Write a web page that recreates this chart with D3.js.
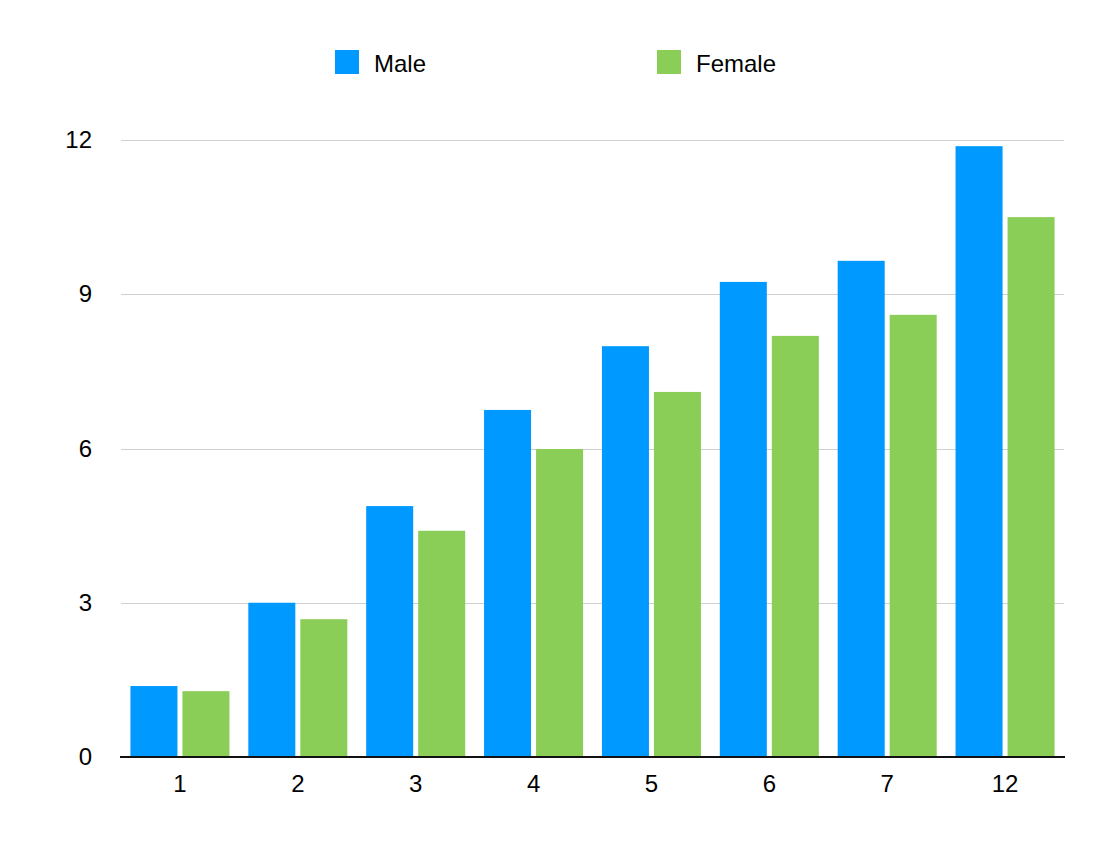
<!DOCTYPE html>
<html>
<head>
<meta charset="utf-8">
<script src="https://cdn.jsdelivr.net/npm/d3@7"></script>
<style>
  body { margin: 0; background: #fff; }
  svg { display: block; font-family: "Liberation Sans", Arial, Helvetica, sans-serif; }
</style>
</head>
<body>
<svg id="chart" width="1116" height="844"></svg>
<script>
const categories = ["1", "2", "3", "4", "5", "6", "7", "12"];
const seriesNames = ["Male", "Female"];
const male = [1.38, 3.0, 4.88, 6.75, 7.99, 9.24, 9.65, 11.88];
const female = [1.28, 2.68, 4.4, 5.99, 7.1, 8.19, 8.6, 10.5];
const yTicks = [0, 3, 6, 9, 12];

const colors = { Male: "#0099ff", Female: "#8acd57" };

const width = 1116, height = 844,
  margin = { left: 121, right: 52, top: 140, bottom: 87 };

const data = categories.map((c, i) => ({ cat: c, Male: male[i], Female: female[i] }));

const svg = d3.select("#chart");

const x = d3.scaleBand()
  .domain(categories)
  .range([margin.left, width - margin.right])
  .paddingInner(0.16)
  .paddingOuter(0.08);

const xSub = d3.scaleBand()
  .domain(seriesNames)
  .range([0, x.bandwidth()])
  .paddingInner(0.096);

const y = d3.scaleLinear()
  .domain([0, 12])
  .range([height - margin.bottom, margin.top]);

// grid
svg.append("g")
  .attr("stroke", "#d0d0d0")
  .attr("stroke-width", 1)
  .selectAll("line")
  .data(yTicks.filter(d => d > 0))
  .join("line")
  .attr("x1", margin.left)
  .attr("x2", width - margin.right)
  .attr("y1", d => Math.round(y(d)) + 0.5)
  .attr("y2", d => Math.round(y(d)) + 0.5);

// bars
svg.append("g")
  .selectAll("g")
  .data(data)
  .join("g")
  .attr("transform", d => `translate(${x(d.cat)},0)`)
  .selectAll("rect")
  .data(d => seriesNames.map(s => ({ key: s, value: d[s] })))
  .join("rect")
  .attr("x", d => xSub(d.key))
  .attr("width", xSub.bandwidth())
  .attr("y", d => y(d.value))
  .attr("height", d => y(0) - y(d.value))
  .attr("fill", d => colors[d.key]);

// baseline
svg.append("line")
  .attr("x1", margin.left - 1)
  .attr("x2", width - margin.right + 1)
  .attr("y1", y(0))
  .attr("y2", y(0))
  .attr("stroke", "#111")
  .attr("stroke-width", 2);

// y axis labels
const yAxis = g => g.attr("transform", `translate(${margin.left},0)`)
  .call(d3.axisLeft(y).tickValues(yTicks).tickSize(0).tickPadding(29))
  .call(g => g.select(".domain").remove())
  .call(g => g.selectAll("text")
    .attr("font-size", 24)
    .attr("fill", "#000")
    .attr("font-family", "inherit"));
svg.append("g").call(yAxis);

// x axis labels
const xAxis = g => g.attr("transform", `translate(0,${y(0)})`)
  .call(d3.axisBottom(x).tickSize(0).tickPadding(18))
  .call(g => g.select(".domain").remove())
  .call(g => g.selectAll("text")
    .attr("font-size", 24)
    .attr("fill", "#000")
    .attr("font-family", "inherit"));
svg.append("g").call(xAxis);

// legend
const legendX = [335, 657];
const legend = svg.append("g")
  .selectAll("g")
  .data(seriesNames)
  .join("g")
  .attr("transform", (d, i) => `translate(${legendX[i]},50)`);
legend.append("rect")
  .attr("width", 24)
  .attr("height", 24)
  .attr("fill", d => colors[d]);
legend.append("text")
  .attr("x", 39)
  .attr("y", 22)
  .attr("font-size", 24)
  .attr("fill", "#000")
  .text(d => d);
</script>
</body>
</html>
